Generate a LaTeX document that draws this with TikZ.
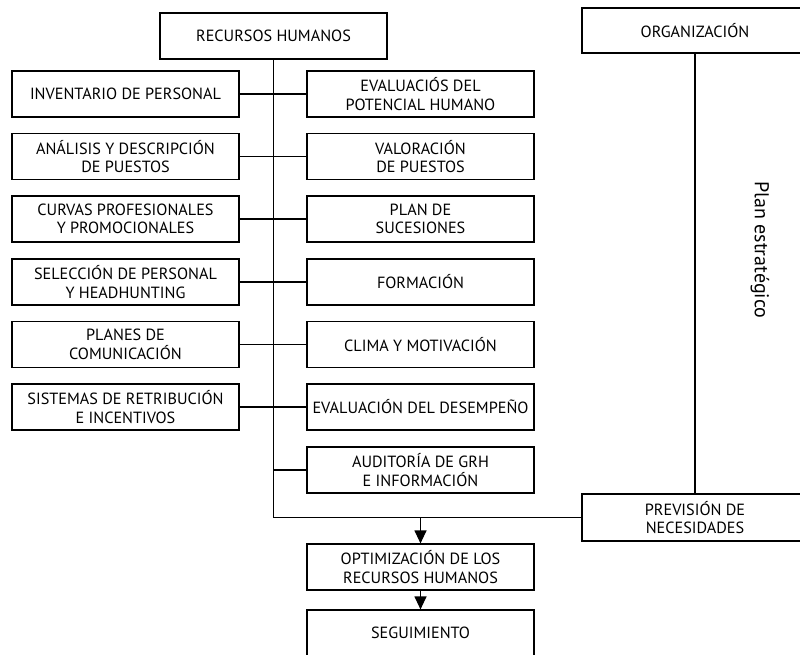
\documentclass[tikz,border=0pt]{standalone}
\usepackage{fontspec}
\setmainfont{PT Sans}
\usetikzlibrary{arrows.meta}
\begin{document}
\begin{tikzpicture}[x=1pt,y=-1pt,
  box/.style={draw, line width=1.2pt, minimum width=227pt, minimum height=46pt,
    inner sep=0pt, align=center, font=\fontsize{16.2}{18.6}\selectfont},
  wide/.style={box, minimum width=226pt},
  conn/.style={line width=1.2pt},
  arr/.style={line width=1.2pt, -{Triangle[width=12pt,length=13pt]}}]
\useasboundingbox (0,0) rectangle (800,655);
\node[box] (rh) at (273.5,36) {RECURSOS HUMANOS};
\node[wide, minimum height=45pt] (org) at (695,30.5) {ORGANIZACIÓN};
% left column
\node[box] (l1) at (125.5,94) {INVENTARIO DE PERSONAL};
\node[box] (l2) at (125.5,156.5) {ANÁLISIS Y DESCRIPCIÓN\\DE PUESTOS};
\node[box] (l3) at (125.5,219) {CURVAS PROFESIONALES\\Y PROMOCIONALES};
\node[box] (l4) at (125.5,282) {SELECCIÓN DE PERSONAL\\Y HEADHUNTING};
\node[box] (l5) at (125.5,344.5) {PLANES DE\\COMUNICACIÓN};
\node[box] (l6) at (125.5,407) {SISTEMAS DE RETRIBUCIÓN\\E INCENTIVOS};
% right column
\node[box] (r1) at (420.5,94) {EVALUACIÓS DEL\\POTENCIAL HUMANO};
\node[box] (r2) at (420.5,156.5) {VALORACIÓN\\DE PUESTOS};
\node[box] (r3) at (420.5,219) {PLAN DE\\SUCESIONES};
\node[box] (r4) at (420.5,282) {FORMACIÓN};
\node[box] (r5) at (420.5,344.5) {CLIMA Y MOTIVACIÓN};
\node[box] (r6) at (420.5,407) {EVALUACIÓN DEL DESEMPEÑO};
\node[box] (r7) at (420.5,470) {AUDITORÍA DE GRH\\E INFORMACIÓN};
% bottom
\node[wide, minimum height=47pt] (prev) at (695,517.5) {PREVISIÓN DE\\NECESIDADES};
\node[box] (opt) at (420.5,567) {OPTIMIZACIÓN DE LOS\\RECURSOS HUMANOS};
\node[box] (seg) at (420.5,633) {SEGUIMIENTO};
\node[rotate=-90, font=\fontsize{20}{24}\selectfont] (plan) at (760,250) {Plan estratégico};
% connectors
\draw[conn] (rh.south) -- (rh.south |- prev.west) -- (prev.west);
\foreach \i in {1,...,6} {\draw[conn] (l\i.east) -- (r\i.west);}
\draw[conn] (r7.west) -- (r7.west -| rh.south);
\draw[conn] (org.south) -- (prev.north);
\coordinate (split) at (opt.north |- prev.west);
\draw[arr] (split) -- (opt.north);
\draw[arr] (opt.south) -- (seg.north);
\end{tikzpicture}
\end{document}
